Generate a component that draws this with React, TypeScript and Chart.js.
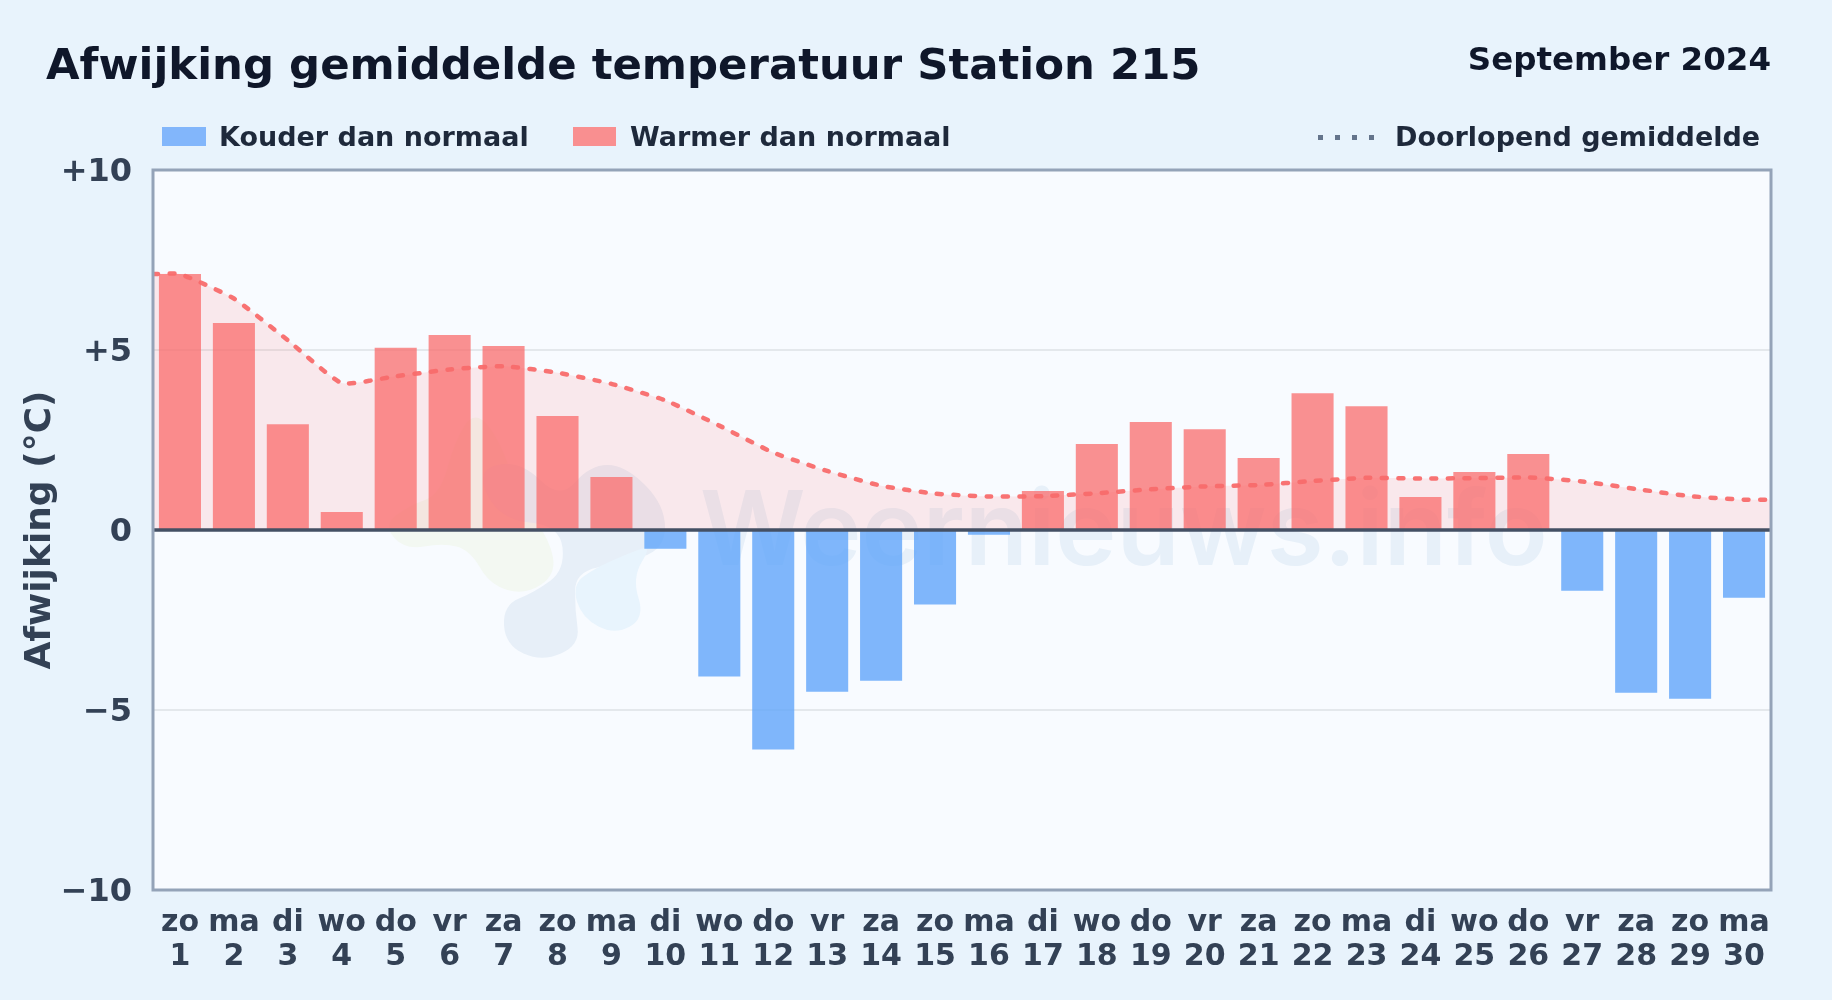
import React, { useEffect, useRef } from "react";
import { Chart, registerables } from "chart.js";

Chart.register(...registerables);

const weekdays = ["zo","ma","di","wo","do","vr","za","zo","ma","di","wo","do","vr","za","zo","ma","di","wo","do","vr","za","zo","ma","di","wo","do","vr","za","zo","ma"];
const days = ["1","2","3","4","5","6","7","8","9","10","11","12","13","14","15","16","17","18","19","20","21","22","23","24","25","26","27","28","29","30"];
const deviation = [7.11,5.75,2.94,0.5,5.06,5.42,5.11,3.17,1.47,-0.52,-4.07,-6.1,-4.49,-4.19,-2.07,-0.13,1.08,2.39,3.0,2.8,2.0,3.8,3.44,0.92,1.61,2.11,-1.69,-4.52,-4.69,-1.88];
const runningMean = [7.11,6.43,5.27,4.08,4.27,4.46,4.55,4.37,4.06,3.6,2.9,2.15,1.64,1.23,1.01,0.93,0.94,1.02,1.13,1.21,1.25,1.36,1.45,1.43,1.44,1.46,1.35,1.14,0.94,0.84];
const yTickLabels: Record<string, string> = { "10": "+10", "5": "+5", "0": "0", "-5": "\u22125", "-10": "\u221210" };
const titleText = "Afwijking gemiddelde temperatuur Station 215";
const periodText = "September 2024";
const legendCold = "Kouder dan normaal";
const legendWarm = "Warmer dan normaal";
const legendMean = "Doorlopend gemiddelde";
const axisTitle = "Afwijking (\u00b0C)";
const watermarkText = "Weernieuws.info";

const FONT = '"DejaVu Sans", sans-serif';
const COLD = "rgba(96,165,250,0.8)";
const WARM = "rgba(250,107,107,0.74)";

function blob(ctx: CanvasRenderingContext2D, pts: number[][], color: string) {
  ctx.beginPath();
  const n = pts.length;
  ctx.moveTo((pts[0][0] + pts[n - 1][0]) / 2, (pts[0][1] + pts[n - 1][1]) / 2);
  for (let i = 0; i < n; i++) {
    const p = pts[i], q = pts[(i + 1) % n];
    ctx.quadraticCurveTo(p[0], p[1], (p[0] + q[0]) / 2, (p[1] + q[1]) / 2);
  }
  ctx.closePath();
  ctx.fillStyle = color;
  ctx.fill();
}

const backdrop = {
  id: "backdrop",
  beforeDraw(chart: any) {
    const { ctx, chartArea: a } = chart;
    ctx.save();
    ctx.fillStyle = "#f8fbff";
    ctx.fillRect(a.left, a.top, a.right - a.left, a.bottom - a.top);
    blob(ctx, [[383,525],[405,550],[443,543],[470,550],[490,585],[525,595],[556,575],[550,540],[520,500],[500,440],[475,410],[455,440],[440,495],[410,505]], "#f3f8f2");
    blob(ctx, [[475,470],[520,460],[560,500],[590,465],[625,465],[665,505],[665,550],[620,563],[575,572],[575,610],[580,645],[542,662],[505,645],[503,605],[535,592],[565,570],[560,525],[500,520]], "#e7eff8");
    blob(ctx, [[615,635],[582,618],[572,585],[595,568],[632,552],[652,545],[632,578],[645,618]], "#e8f4fd");
    ctx.font = "600 103.5px Inter, sans-serif";
    ctx.textBaseline = "alphabetic";
    ctx.textAlign = "left";
    ctx.fillStyle = "#e7f0f9";
    ctx.fillText(watermarkText, 700, 565);
    ctx.restore();
  },
};

const frame = {
  id: "frame",
  afterDatasetsDraw(chart: any) {
    const { ctx, chartArea: a, scales } = chart;
    const zero = scales.y.getPixelForValue(0);
    ctx.save();
    ctx.strokeStyle = "#445064";
    ctx.lineWidth = 3.5;
    ctx.beginPath();
    ctx.moveTo(a.left, zero);
    ctx.lineTo(a.right, zero);
    ctx.stroke();
    ctx.strokeStyle = "#94a3b8";
    ctx.lineWidth = 3;
    ctx.strokeRect(a.left, a.top, a.right - a.left, a.bottom - a.top);
    ctx.restore();
  },
};

const textBase: React.CSSProperties = { position: "absolute", fontFamily: FONT, fontWeight: 700, whiteSpace: "nowrap" };

export default function App() {
  const ref = useRef<HTMLCanvasElement>(null);
  useEffect(() => {
    document.body.style.margin = "0";
    document.body.style.background = "#e8f3fc";
    const lineData = [
      { x: 0.5, y: runningMean[0] },
      ...runningMean.map((y, i) => ({ x: i + 1, y })),
      { x: 30.5, y: runningMean[runningMean.length - 1] },
    ];
    const chart = new Chart(ref.current!, {
      type: "bar",
      data: {
        labels: weekdays.map((w, i) => [w, days[i]]),
        datasets: [
          {
            type: "bar",
            data: deviation,
            backgroundColor: deviation.map((v) => (v < 0 ? COLD : WARM)),
            categoryPercentage: 1,
            barPercentage: 0.78,
            grouped: false,
            order: 2,
            xAxisID: "x",
            yAxisID: "y",
          },
          {
            type: "line",
            data: lineData as any,
            xAxisID: "xLine",
            yAxisID: "y",
            order: 1,
            pointRadius: 0,
            borderColor: "rgba(248,108,108,0.95)",
            borderWidth: 4.5,
            borderDash: [5, 11.5],
            borderCapStyle: "round",
            tension: 0.15,
            fill: { target: "origin", above: "rgba(255,100,100,0.125)", below: "rgba(255,100,100,0.125)" },
          },
        ],
      },
      options: {
        responsive: false,
        animation: false,
        devicePixelRatio: 1,
        layout: { padding: { top: 170, right: 61, left: 0, bottom: 0 } },
        plugins: {
          legend: { display: false },
          tooltip: { enabled: false },
          filler: { drawTime: "beforeDatasetsDraw" },
        },
        scales: {
          x: {
            type: "category",
            offset: true,
            afterFit(s: any) { s.height = 110; },
            grid: { display: false, drawTicks: false },
            border: { display: false },
            ticks: {
              autoSkip: false,
              maxRotation: 0,
              minRotation: 0,
              padding: 16,
              color: "#334155",
              font: { family: FONT, weight: "bold", size: 30, lineHeight: 1.13 },
            },
          },
          xLine: { type: "linear", display: false, offset: false, min: 0.5, max: 30.5, position: "bottom" },
          y: {
            type: "linear",
            min: -10,
            max: 10,
            afterFit(s: any) { s.width = 153; },
            grid: { color: "#e4e8ec", lineWidth: 2, drawTicks: false },
            border: { display: false },
            title: {
              display: true,
              text: axisTitle,
              color: "#334155",
              padding: { top: 19, bottom: 0 },
              font: { family: FONT, weight: "bold", size: 36 },
            },
            ticks: {
              stepSize: 5,
              padding: 21,
              labelOffset: 2.5,
              color: "#334155",
              font: { family: FONT, weight: "bold", size: 32 },
              callback: (v: any) => yTickLabels[String(v)] ?? "",
            },
          },
        },
      } as any,
      plugins: [backdrop, frame],
    } as any);
    return () => chart.destroy();
  }, []);

  return (
    <div style={{ position: "relative", width: 1832, height: 1000, overflow: "hidden", background: "#e8f3fc" }}>
      <canvas ref={ref} width={1832} height={1000} style={{ position: "absolute", left: 0, top: 0, display: "block" }} />
      <div style={{ ...textBase, left: 46, top: 37, fontSize: 43.4, lineHeight: "54px", color: "#0f172a" }}>{titleText}</div>
      <div style={{ ...textBase, right: 61, top: 40, fontSize: 32.5, lineHeight: "38px", color: "#0f172a" }}>{periodText}</div>
      <div style={{ position: "absolute", left: 162, top: 127, width: 44, height: 19, background: "#82b6fb" }} />
      <div style={{ ...textBase, left: 219, top: 120, fontSize: 27, lineHeight: "34px", color: "#1e293b" }}>{legendCold}</div>
      <div style={{ position: "absolute", left: 573, top: 127, width: 43, height: 19, background: "#f98f90" }} />
      <div style={{ ...textBase, left: 630, top: 120, fontSize: 27, lineHeight: "34px", color: "#1e293b" }}>{legendWarm}</div>
      {[0, 1, 2, 3].map((i) => (
        <div key={i} style={{ position: "absolute", left: 1318 + i * 17, top: 134.5, width: 5, height: 5, background: "#64748b" }} />
      ))}
      <div style={{ ...textBase, left: 1395, top: 120, fontSize: 27, lineHeight: "34px", color: "#1e293b" }}>{legendMean}</div>
    </div>
  );
}
